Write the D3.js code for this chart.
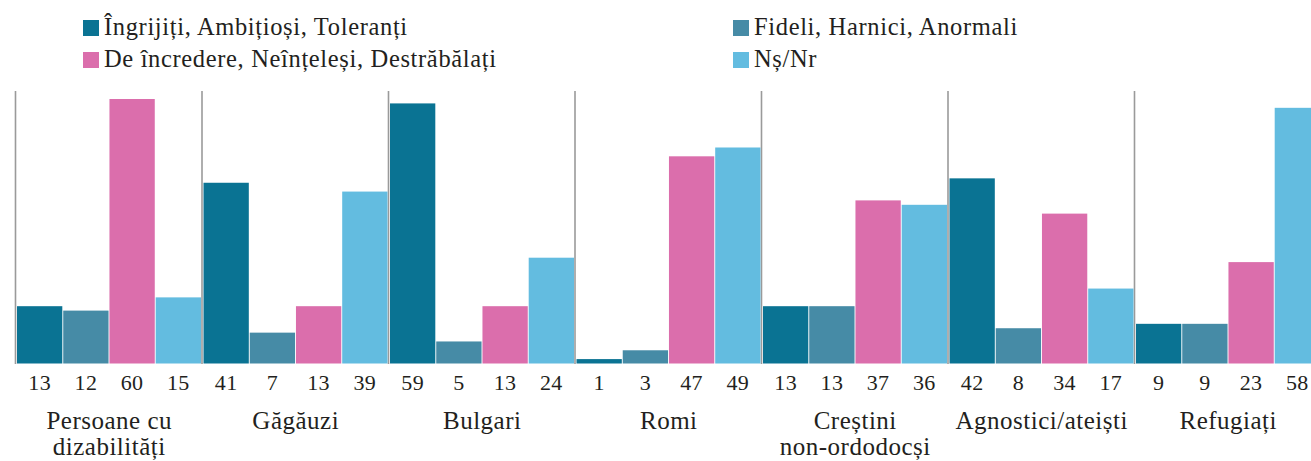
<!DOCTYPE html>
<html><head><meta charset="utf-8">
<script src="https://cdn.jsdelivr.net/npm/d3@7"></script>
<style>body{margin:0;background:#fff}svg{display:block}</style>
</head><body>
<svg id="c" width="1311" height="461"></svg>
<script>
const categories = [["Persoane cu","dizabilități"],["Găgăuzi"],["Bulgari"],["Romi"],["Creștini","non-ordodocși"],["Agnostici/ateiști"],["Refugiați"]];
const seriesNames = ["Îngrijiți, Ambițioși, Toleranți","Fideli, Harnici, Anormali","De încredere, Neînțeleși, Destrăbălați","Nș/Nr"];
const s1 = [13,41,59,1,13,42,9];
const s2 = [12,7,5,3,13,8,9];
const s3 = [60,13,13,47,37,34,23];
const s4 = [15,39,24,49,36,17,58];
const colors = ["#0a7393","#468ba6","#db6eac","#63bce0"];
const series = [s1,s2,s3,s4];
const FONT = "'Liberation Serif', 'Times New Roman', Times, serif";
const INK = "#231f20";

const svg = d3.select("#c").attr("font-family", FONT);
const keys = categories.map((d,i)=>i);
const x0 = d3.scaleBand().domain(keys).range([15, 15+7*186.5]);
const x1 = d3.scaleBand().domain([0,1,2,3]).range([2, 186]).paddingInner(0.02);
const y = d3.scaleLinear().domain([0,60]).range([363.5, 99]);

svg.append("g").selectAll("line").data(keys).join("line")
  .attr("x1", d=>x0(d)+0.5).attr("x2", d=>x0(d)+0.5)
  .attr("y1", 91).attr("y2", 364)
  .attr("stroke","#9a9a9a").attr("stroke-width",1.6);

const g = svg.append("g").selectAll("g").data(keys).join("g")
  .attr("transform", d=>`translate(${x0(d)},0)`);
g.selectAll("rect").data(i=>series.map((s,k)=>({k,v:s[i]}))).join("rect")
  .attr("x", d=>x1(d.k)).attr("width", x1.bandwidth())
  .attr("y", d=>y(d.v)).attr("height", d=>y(0)-y(d.v))
  .attr("fill", d=>colors[d.k]);
g.selectAll("text.v").data(i=>series.map((s,k)=>({k,v:s[i]}))).join("text").attr("class","v")
  .attr("x", d=>x1(d.k)+x1.bandwidth()/2).attr("y", 390)
  .attr("text-anchor","middle").attr("font-size",22).attr("letter-spacing",0.3).attr("fill",INK).text(d=>d.v);
g.append("text").attr("class","cat")
  .attr("x", x0.bandwidth()/2+1).attr("y", 429).attr("text-anchor","middle").attr("font-size",25).attr("fill",INK)
  .attr("letter-spacing",0.5)
  .selectAll("tspan").data(i=>categories[i]).join("tspan")
  .attr("x", x0.bandwidth()/2+1).attr("dy",(d,j)=>j?26:0).text(d=>d);

const legPos = [[83,20],[733,20],[83,52],[733,52]];
const lg = svg.append("g").selectAll("g").data(seriesNames).join("g")
  .attr("transform",(d,i)=>`translate(${legPos[i][0]},${legPos[i][1]})`);
lg.append("rect").attr("width",16).attr("height",16).attr("fill",(d,i)=>colors[i]);
lg.append("text").attr("x",21).attr("y",15).attr("font-size",24.5).attr("letter-spacing",0.65)
  .attr("fill",INK).text(d=>d);
</script>
</body></html>
